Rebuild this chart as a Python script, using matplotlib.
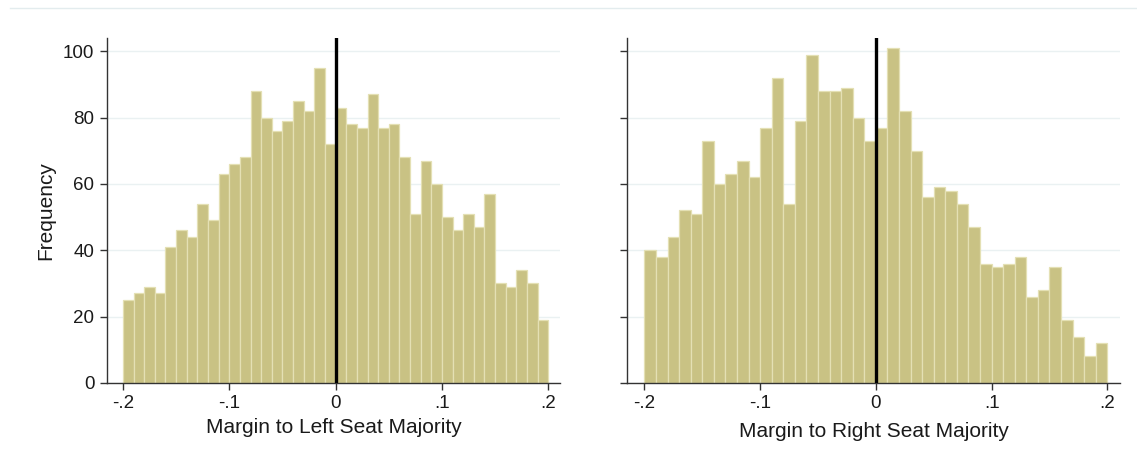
import numpy as np
import matplotlib.pyplot as plt
from matplotlib.lines import Line2D

plt.rcParams['font.family'] = ['Liberation Sans', 'DejaVu Sans']

# histogram counts, 40 bins of width .01 from -.2 to .2
left_counts = [25, 27, 29, 27, 41, 46, 44, 54, 49, 63,
               66, 68, 88, 80, 76, 79, 85, 82, 95, 72,
               83, 78, 77, 87, 77, 78, 68, 51, 67, 60,
               50, 46, 51, 47, 57, 30, 29, 34, 30, 19]
right_counts = [40, 38, 44, 52, 51, 73, 60, 63, 67, 62,
                77, 92, 54, 79, 99, 88, 88, 89, 80, 73,
                77, 101, 82, 70, 56, 59, 58, 54, 47, 36,
                35, 36, 38, 26, 28, 35, 19, 14, 8, 12]
bin_lo, bin_hi = -0.2, 0.2
xticks = [-0.2, -0.1, 0, 0.1, 0.2]
xticklabels = ['-.2', '-.1', '0', '.1', '.2']
yticks = [0, 20, 40, 60, 80, 100]
xlabels = ['Margin to Left Seat Majority', 'Margin to Right Seat Majority']

bar_color = '#c9c284'
edge_color = '#e4e0b4'
grid_color = '#eaf1f2'
text_color = '#1a1a1a'

fig = plt.figure(figsize=(11.37, 4.59), dpi=100)
ax1 = fig.add_axes([0.0941, 0.1656, 0.3984, 0.7516])
ax2 = fig.add_axes([0.5515, 0.1656, 0.4336, 0.7516])

# faint frame line at the top
fig.add_artist(Line2D([0.009, 1.0], [0.982, 0.982], color='#e3ecee', lw=1.0))

for ax, counts, xl, pad in [(ax1, left_counts, xlabels[0], 4), (ax2, right_counts, xlabels[1], 7)]:
    edges = np.linspace(bin_lo, bin_hi, len(counts) + 1)
    ax.bar(edges[:-1], counts, width=np.diff(edges), align='edge',
           color=bar_color, edgecolor=edge_color, linewidth=0.9, zorder=2)
    ax.axvline(0, color='black', lw=2.4, zorder=3)
    ax.set_xlim(-0.215, 0.211)
    ax.set_ylim(0, 104)
    ax.set_yticks(yticks)
    ax.yaxis.grid(True, color=grid_color, lw=1.0, zorder=0)
    ax.set_axisbelow(True)
    ax.set_xticks(xticks)
    ax.set_xticklabels(xticklabels)
    ax.set_xlabel(xl, fontsize=15, color=text_color, labelpad=pad)
    for s in ['top', 'right']:
        ax.spines[s].set_visible(False)
    for s in ['left', 'bottom']:
        ax.spines[s].set_color('#333333')
        ax.spines[s].set_linewidth(1.0)
    ax.tick_params(direction='out', length=5, width=1, colors='#333333',
                   labelcolor=text_color, labelsize=13.5, pad=4)

ax1.set_ylabel('Frequency', fontsize=15, color=text_color, labelpad=6)
ax2.tick_params(axis='y', labelleft=False)

fig.savefig('out.png', dpi=100, facecolor='white')
